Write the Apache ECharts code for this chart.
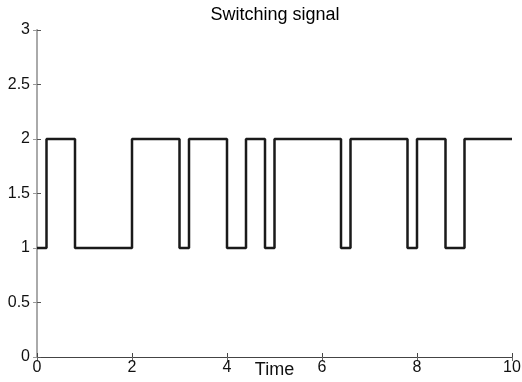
<!DOCTYPE html>
<html>
<head>
<meta charset="utf-8">
<script src="https://cdn.jsdelivr.net/npm/echarts@6/dist/echarts.min.js"></script>
<style>
  html, body { margin: 0; padding: 0; background: #fff; }
  #chart { width: 522px; height: 382px; }
</style>
</head>
<body>
<div id="chart"></div>
<script>
// Switching instants and the active mode held from each instant onward
const switchTimes = [0, 0.2, 0.8, 2.0, 3.0, 3.2, 4.0, 4.4, 4.8, 5.0, 6.4, 6.6, 7.8, 8.0, 8.6, 9.0, 10];
const modes       = [1, 2,   1,   2,   1,   2,   1,   2,   1,   2,   1,   2,   1,   2,   1,   2,   2];
const xTicks = [0, 2, 4, 6, 8, 10];
const yTicks = [0, 0.5, 1, 1.5, 2, 2.5, 3];

const font = 'Liberation Sans, Arial, sans-serif';
const chart = echarts.init(document.getElementById('chart'), null, { renderer: 'canvas' });

const tickFmtY = v => (yTicks.indexOf(v) >= 0 ? String(v) : '');
const tickFmtX = v => (xTicks.indexOf(v) >= 0 ? String(v) : '');

chart.setOption({
  animation: false,
  backgroundColor: '#fff',
  title: {
    text: 'Switching signal',
    left: 270, top: 1, textAlign: 'center',
    textStyle: { fontFamily: font, fontSize: 18, fontWeight: 'normal', color: '#000' }
  },
  grid: { left: 37, right: 10, top: 30, bottom: 25, containLabel: false, outerBoundsMode: 'none' },
  xAxis: [{
    type: 'value', min: 0, max: 10, interval: 2,
    name: 'Time', nameLocation: 'middle', nameGap: 4, nameMoveOverlap: false,
    nameTextStyle: { fontFamily: font, fontSize: 18, color: '#111', verticalAlign: 'top' },
    axisLine: { show: true, lineStyle: { color: '#444', width: 1 } },
    axisTick: { show: true, inside: true, length: 4, lineStyle: { color: '#444' } },
    axisLabel: { fontFamily: font, fontSize: 16, color: '#111', margin: 3, formatter: tickFmtX },
    splitLine: { show: false }
  }, {
    type: 'value', min: 0, max: 10, interval: 2, position: 'top',
    axisLine: { show: false },
    axisTick: { show: true, inside: true, length: 4, lineStyle: { color: '#666' } },
    axisLabel: { show: false },
    splitLine: { show: false }
  }],
  yAxis: [{
    type: 'value', min: 0, max: 3, interval: 0.5,
    axisLine: { show: true, lineStyle: { color: '#555', width: 1 } },
    axisTick: { show: true, inside: true, length: 4, lineStyle: { color: '#555' } },
    axisLabel: { fontFamily: font, fontSize: 16, color: '#111', margin: 7, formatter: tickFmtY },
    splitLine: { show: false }
  }, {
    type: 'value', min: 0, max: 3, interval: 0.5, position: 'right',
    axisLine: { show: true, lineStyle: { color: '#aaa', width: 2 } },
    axisTick: { show: true, inside: true, length: 4, lineStyle: { color: '#999' } },
    axisLabel: { show: false },
    splitLine: { show: false }
  }],
  series: [{
    type: 'line',
    step: 'end',
    xAxisIndex: 0, yAxisIndex: 0,
    data: switchTimes.map((t, i) => [t, modes[i]]),
    showSymbol: false,
    lineStyle: { color: '#1a1a1a', width: 2.5 },
    clip: false
  }]
});
</script>
</body>
</html>
